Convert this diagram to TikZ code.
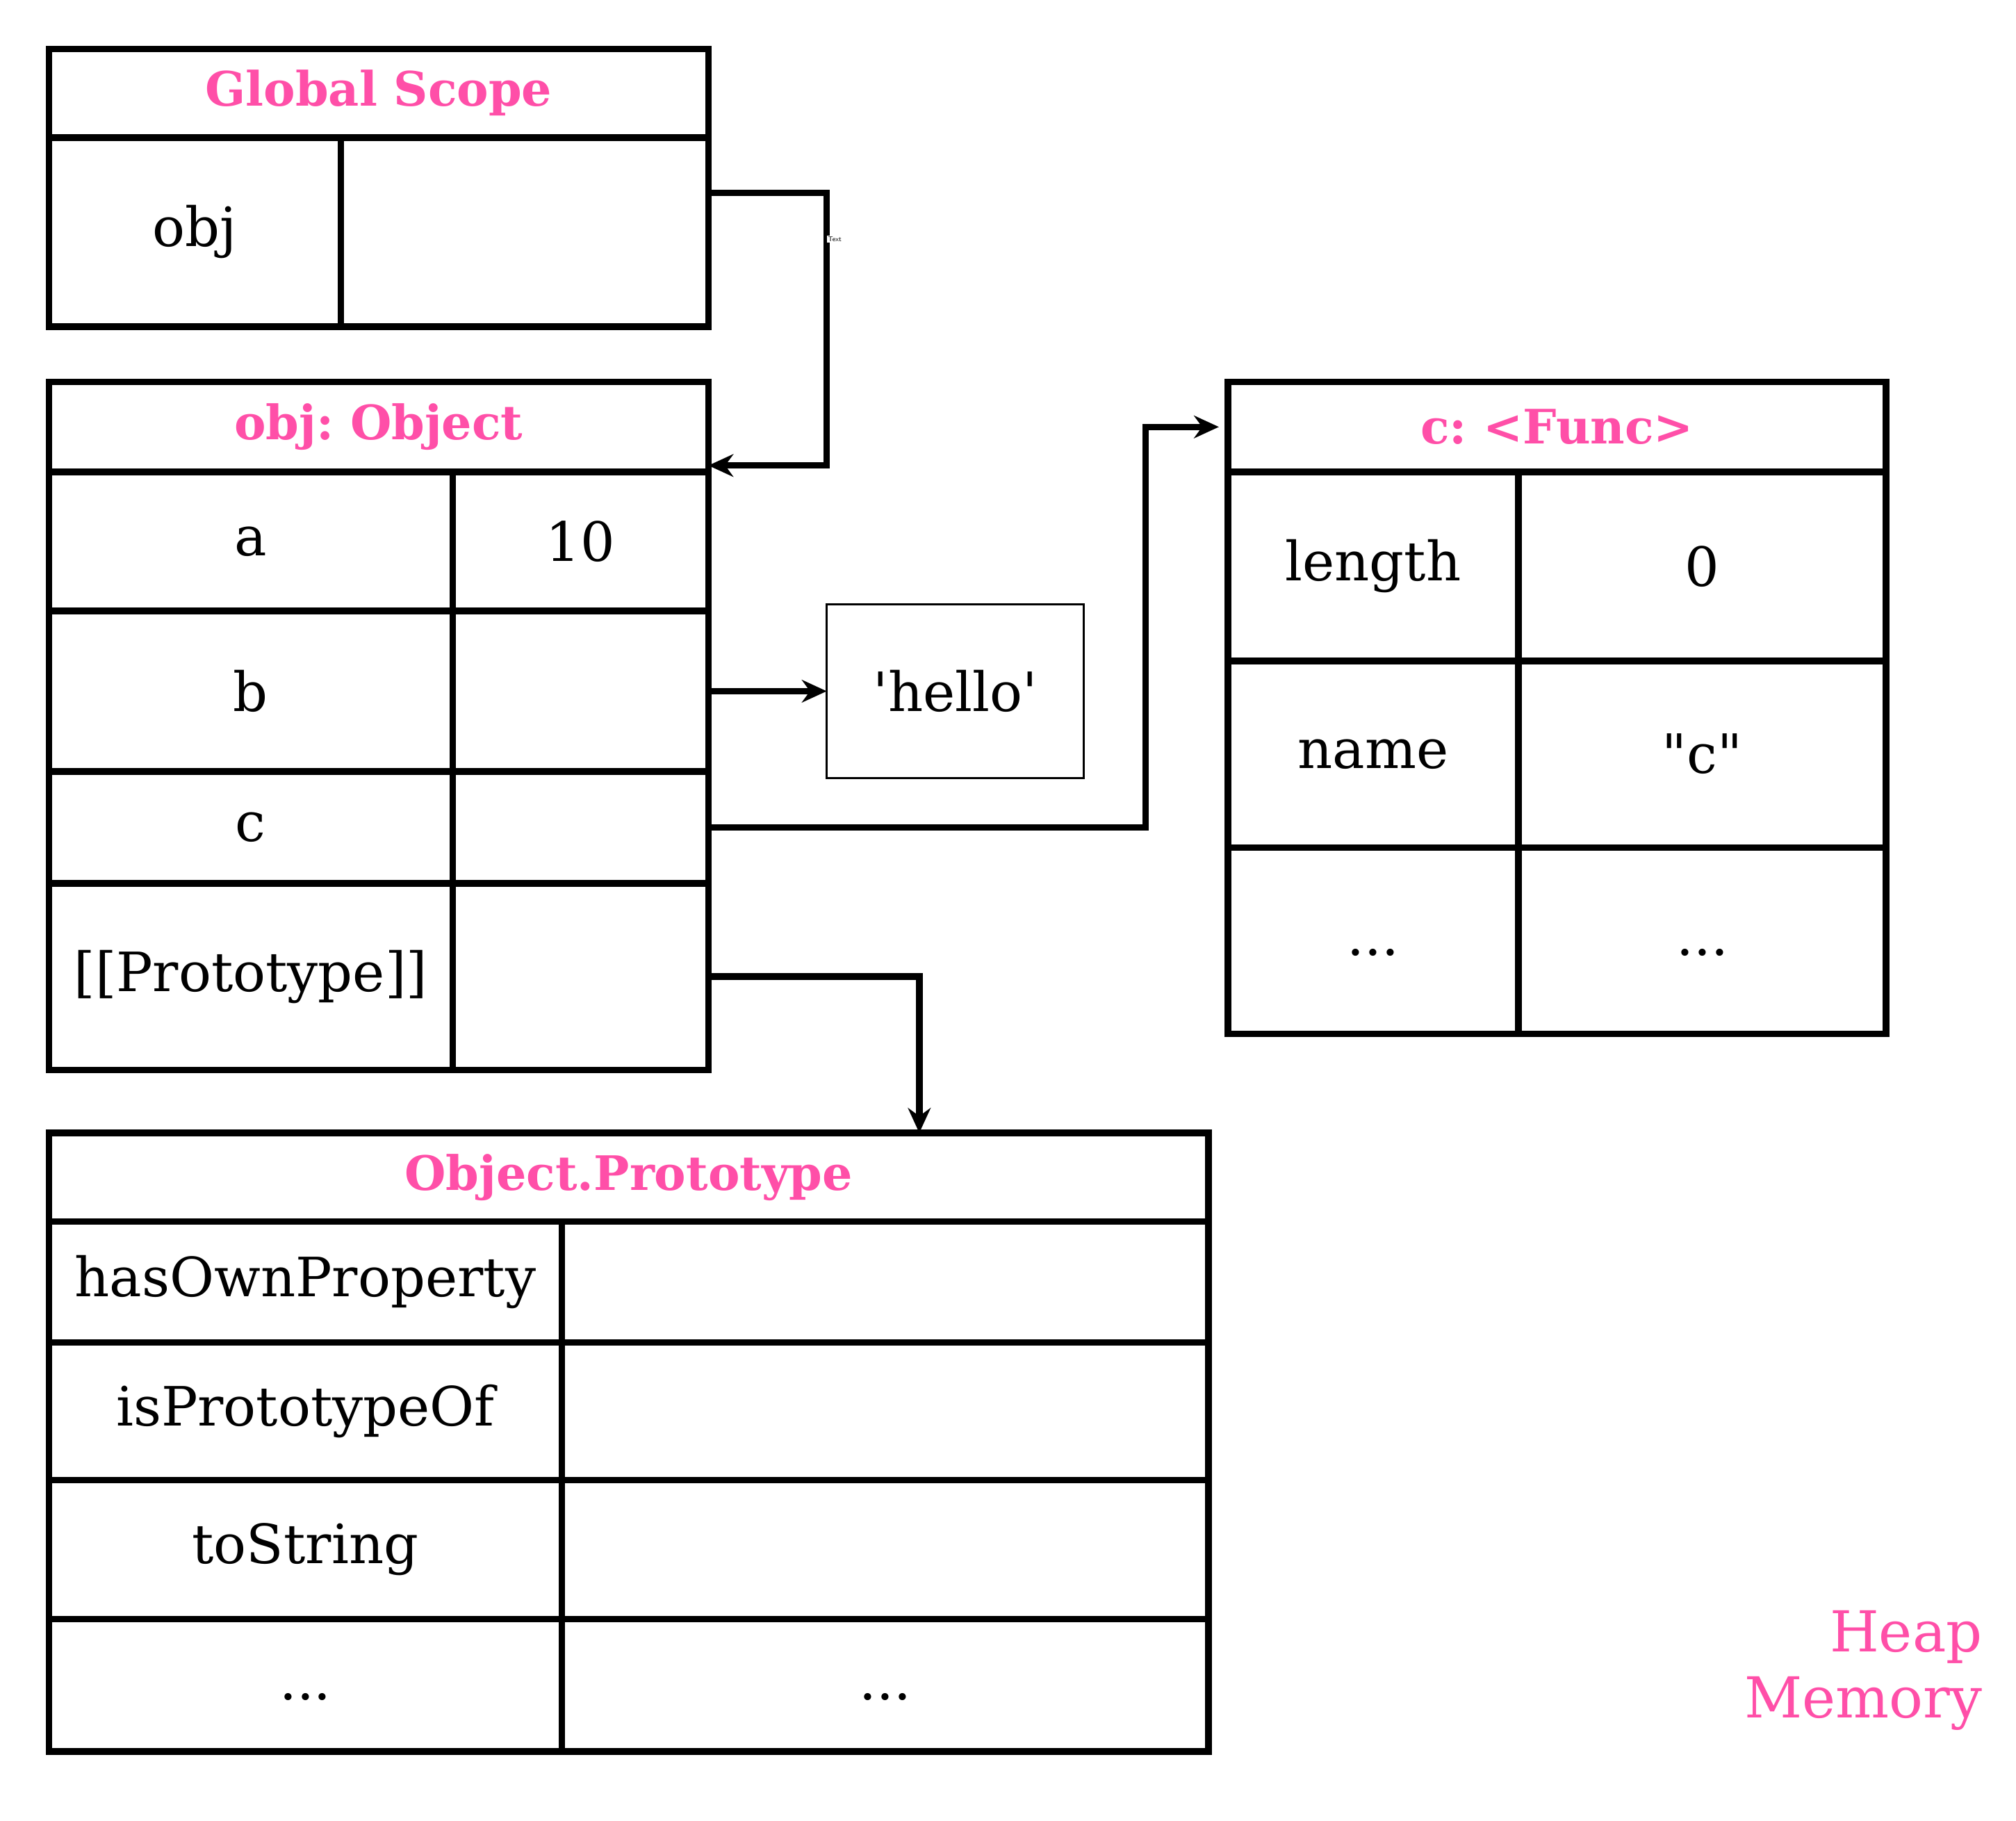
\documentclass[tikz,border=0pt]{standalone}
\usepackage{fontspec}
\setmainfont{DejaVu Serif}
\usetikzlibrary{arrows.meta}
\usetikzlibrary{positioning}
\definecolor{heappink}{HTML}{FF4FA8}
\frenchspacing
\newcommand{\cdotsrow}{\vphantom{hg}...}
\tikzset{
  cell/.style={draw, line width=2.9pt, anchor=north west, inner sep=0pt, outer sep=0pt,
    font=\fontsize{24}{28}\selectfont},
  headcell/.style={cell, text=heappink, font=\fontsize{21}{25}\selectfont\bfseries},
  arr/.style={line width=2.9pt, -{Stealth[length=11pt,width=10pt]}}
}

\begin{document}
\begin{tikzpicture}[x=0.02cm, y=-0.02cm]
                    \useasboundingbox (0,0) rectangle (1568,1416);

                    \node[headcell, minimum width=513*0.02cm, minimum height=69*0.02cm](gshead)at(38, 38){Global Scope};
                    \node[cell, minimum width=227*0.02cm, minimum height=147*0.02cm](gsk)at(38, 107){obj};
                    \node[cell, minimum width=286*0.02cm, minimum height=147*0.02cm](gsv)at(265, 107){};

                    \node[headcell, minimum width=513*0.02cm, minimum height=70*0.02cm](objhead)at(38, 297){obj: Object};
                    \node[cell, minimum width=314*0.02cm, minimum height=108*0.02cm](ak)at(38, 367){a};
                    \node[cell, minimum width=199*0.02cm, minimum height=108*0.02cm](av)at(352, 367){10};
                    \node[cell, minimum width=314*0.02cm, minimum height=125*0.02cm](bk)at(38, 475){b};
                    \node[cell, minimum width=199*0.02cm, minimum height=125*0.02cm](bv)at(352, 475){};
                    \node[cell, minimum width=314*0.02cm, minimum height=87*0.02cm](ck)at(38, 600){c};
                    \node[cell, minimum width=199*0.02cm, minimum height=87*0.02cm](cv)at(352, 600){};
                    \node[cell, minimum width=314*0.02cm, minimum height=145*0.02cm](pk)at(38, 687){[[Prototype]]};
                    \node[cell, minimum width=199*0.02cm, minimum height=145*0.02cm](pv)at(352, 687){};

                    \node[cell, line width=0.9pt, minimum width=200*0.02cm, minimum height=135*0.02cm](hello)at(643, 470){\textquotesingle hello\textquotesingle};

                    \node[headcell, minimum width=512*0.02cm, minimum height=70*0.02cm](fhead)at(955, 297){c: <Func>};
                    \node[cell, minimum width=226*0.02cm, minimum height=147*0.02cm](lenk)at(955, 367){length};
                    \node[cell, minimum width=286*0.02cm, minimum height=147*0.02cm](lenv)at(1181, 367){0};
                    \node[cell, minimum width=226*0.02cm, minimum height=145*0.02cm](namek)at(955, 514){name};
                    \node[cell, minimum width=286*0.02cm, minimum height=145*0.02cm](namev)at(1181, 514){\textquotedbl c\textquotedbl};
                    \node[cell, minimum width=226*0.02cm, minimum height=145*0.02cm](fdotk)at(955, 659){\cdotsrow};
                    \node[cell, minimum width=286*0.02cm, minimum height=145*0.02cm](fdotv)at(1181, 659){\cdotsrow};

                    \node[headcell, minimum width=902*0.02cm, minimum height=69*0.02cm](phead)at(38, 881){Object.Prototype};
                    \node[cell, minimum width=399*0.02cm, minimum height=94*0.02cm](ownk)at(38, 950){hasOwnProperty};
                    \node[cell, minimum width=503*0.02cm, minimum height=94*0.02cm](ownv)at(437, 950){};
                    \node[cell, minimum width=399*0.02cm, minimum height=107*0.02cm](isk)at(38, 1044){isPrototypeOf};
                    \node[cell, minimum width=503*0.02cm, minimum height=107*0.02cm](isv)at(437, 1044){};
                    \node[cell, minimum width=399*0.02cm, minimum height=108*0.02cm](strk)at(38, 1151){toString};
                    \node[cell, minimum width=503*0.02cm, minimum height=108*0.02cm](strv)at(437, 1151){};
                    \node[cell, minimum width=399*0.02cm, minimum height=103*0.02cm](pdotk)at(38, 1259){\cdotsrow};
                    \node[cell, minimum width=503*0.02cm, minimum height=103*0.02cm](pdotv)at(437, 1259){\cdotsrow};

                    \node[anchor=east, align=right, text=heappink, font=\fontsize{25}{29}\selectfont](heap)at(1548, 1299){Heap\\Memory};

                    \coordinate(gsbend)at(643, 150);
                    \coordinate(cbend)at(891, 643.5);
                    \draw[arr](gsv.east |- gsbend)--(gsbend)--(643, 362)--(objhead.south east |- 0, 362);
                    \node[anchor=west, fill=white, inner sep=0.4pt, font=\fontsize{3}{3}\sffamily](gslabel)at(643, 186){Text};
                    \draw[arr](bv.east)--(hello.west);
                    \draw[arr](cv.east)--(cbend)|-([xshift=-0.14cm]fhead.west);
                    \draw[arr](pv.east)-|(phead.north -| 715, 0);
                \end{tikzpicture}
\end{document}
